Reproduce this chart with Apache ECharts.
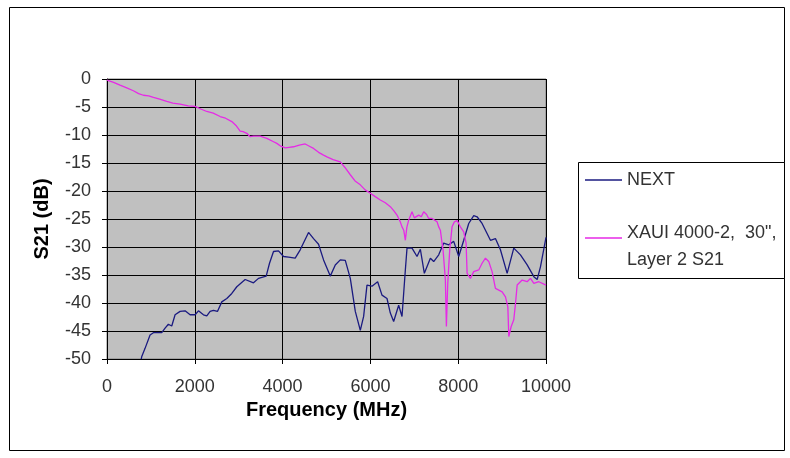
<!DOCTYPE html>
<html>
<head>
<meta charset="utf-8">
<script src="https://cdn.jsdelivr.net/npm/echarts@6/dist/echarts.min.js"></script>
<style>
html,body{margin:0;padding:0;background:#fff;}
#chart{width:790px;height:458px;}
</style>
</head>
<body>
<div id="chart"></div>
<script>
// Tick settings
var xTicks = [0, 2000, 4000, 6000, 8000, 10000];
var yTicks = [0, -5, -10, -15, -20, -25, -30, -35, -40, -45, -50];

// Series 1: NEXT
var nextFreq = [780, 790, 867, 981, 1057, 1247, 1323, 1398, 1475, 1551, 1665, 1779, 1893, 2007, 2083, 2197, 2273, 2349, 2425, 2516, 2615, 2729, 2843, 2957, 3147, 3337, 3451, 3626, 3702, 3793, 3907, 4021, 4135, 4287, 4401, 4591, 4705, 4819, 4933, 5086, 5200, 5314, 5428, 5542, 5656, 5770, 5846, 5922, 6036, 6165, 6264, 6378, 6454, 6530, 6644, 6720, 6796, 6834, 6948, 7062, 7138, 7229, 7366, 7442, 7556, 7670, 7784, 7898, 8012, 8126, 8240, 8354, 8430, 8544, 8734, 8848, 8962, 9115, 9266, 9418, 9571, 9723, 9799, 9875, 10000];
var nextDb = [-50, -49.6, -48.1, -45.7, -45.3, -45.3, -44.5, -43.8, -44.1, -42.1, -41.5, -41.4, -42.1, -42.1, -41.4, -42.1, -42.3, -41.5, -41.3, -41.5, -39.8, -39.2, -38.3, -37.1, -35.8, -36.4, -35.6, -35.2, -32.9, -30.8, -30.7, -31.7, -31.8, -32.0, -30.5, -27.4, -28.5, -29.5, -32.3, -35.2, -33.2, -32.3, -32.4, -35.6, -41.5, -44.9, -42.4, -36.8, -37.0, -36.2, -38.6, -39.2, -41.8, -43.3, -40.4, -42.4, -34.1, -30.2, -30.2, -31.7, -30.4, -34.7, -32.0, -32.6, -31.4, -29.3, -29.6, -29.0, -31.7, -28.8, -25.8, -24.4, -24.6, -25.8, -28.8, -28.5, -30.5, -34.7, -30.2, -31.4, -33.2, -35.3, -35.8, -33.5, -28.3];

// Series 2: XAUI 4000-2, 30", Layer 2 S21
var s21Freq = [0, 150, 296, 450, 600, 720, 829, 950, 1057, 1200, 1361, 1500, 1665, 1850, 2007, 2150, 2273, 2420, 2577, 2700, 2843, 2950, 3033, 3100, 3185, 3260, 3337, 3489, 3641, 3793, 3869, 3960, 4059, 4150, 4249, 4380, 4515, 4610, 4705, 4820, 4933, 5010, 5150, 5314, 5420, 5542, 5650, 5770, 5880, 5998, 6110, 6226, 6340, 6454, 6540, 6606, 6680, 6720, 6760, 6796, 6830, 6872, 6948, 7000, 7024, 7100, 7160, 7214, 7280, 7328, 7404, 7442, 7518, 7556, 7594, 7632, 7655, 7708, 7731, 7762, 7807, 7860, 7913, 7975, 8050, 8126, 8180, 8203, 8278, 8354, 8468, 8544, 8620, 8696, 8772, 8848, 9001, 9077, 9131, 9153, 9207, 9266, 9305, 9343, 9457, 9571, 9646, 9723, 9837, 10000];
var s21Db = [-0.2, -0.6, -1.1, -1.6, -2.1, -2.6, -2.9, -3.0, -3.3, -3.6, -4.0, -4.3, -4.5, -4.8, -4.9, -5.4, -5.8, -6.1, -6.7, -7.0, -7.6, -8.4, -9.3, -9.4, -9.7, -10.3, -10.2, -10.2, -10.6, -11.2, -11.5, -12.0, -12.3, -12.2, -12.1, -11.8, -11.6, -12.0, -12.4, -13.1, -13.6, -13.9, -14.4, -14.8, -15.8, -17.1, -18.2, -18.9, -19.8, -20.4, -21.0, -21.6, -22.1, -22.8, -23.6, -24.3, -25.5, -26.4, -27.0, -28.8, -26.5, -25.2, -23.7, -24.8, -24.6, -24.3, -24.6, -23.7, -24.2, -24.9, -24.9, -25.1, -25.5, -26.4, -27.0, -29.3, -30.5, -35.9, -44.2, -36.5, -30.5, -26.4, -25.5, -25.3, -26.4, -27.3, -29.3, -34.7, -35.6, -34.4, -34.1, -32.9, -32.0, -32.6, -34.4, -37.4, -38.0, -38.9, -40.7, -46.0, -44.2, -43.0, -40.1, -36.8, -35.9, -36.2, -35.6, -36.5, -36.2, -36.8];

var seriesNames = ['NEXT', 'XAUI 4000-2, 30",\nLayer 2 S21'];
var seriesColors = ['#1a1a80', '#e62ae6'];

function zip(a, b) { return a.map(function (v, i) { return [v, b[i]]; }); }

var FONT = '"Liberation Sans", Arial, sans-serif';
var chart = echarts.init(document.getElementById('chart'), null, {renderer: 'canvas'});

chart.setOption({
  animation: false,
  backgroundColor: '#ffffff',
  grid: {
    left: 107, top: 79, width: 439, height: 280,
    show: true, backgroundColor: '#c0c0c0', borderColor: '#808080', borderWidth: 1,
    containLabel: false
  },
  xAxis: {
    type: 'value', min: xTicks[0], max: xTicks[xTicks.length - 1], interval: 2000,
    name: 'Frequency (MHz)', nameLocation: 'middle', nameGap: 40,
    nameTextStyle: {fontFamily: FONT, fontSize: 20, fontWeight: 'bold', color: '#000'},
    axisLine: {show: true, onZero: false, lineStyle: {color: '#000', width: 1}},
    axisTick: {show: true, inside: false, length: 5, lineStyle: {color: '#000'}},
    axisLabel: {fontFamily: FONT, fontSize: 18, color: '#333', margin: 19,
      formatter: function (v) { return String(v); }},
    splitLine: {show: true, lineStyle: {color: '#000', width: 1}}
  },
  yAxis: {
    type: 'value', min: yTicks[yTicks.length - 1], max: yTicks[0], interval: 5,
    name: 'S21 (dB)', nameLocation: 'middle', nameGap: 55, nameRotate: 90,
    nameTextStyle: {fontFamily: FONT, fontSize: 20, fontWeight: 'bold', color: '#000'},
    axisLine: {show: true, onZero: false, lineStyle: {color: '#000', width: 1}},
    axisTick: {show: true, inside: false, length: 5, lineStyle: {color: '#000'}},
    axisLabel: {fontFamily: FONT, fontSize: 18, color: '#333', margin: 16,
      formatter: function (v) { return String(v); }},
    splitLine: {show: true, lineStyle: {color: '#000', width: 1}}
  },
  series: [
    {
      name: seriesNames[0], type: 'line', data: zip(nextFreq, nextDb),
      showSymbol: false, symbol: 'none', smooth: false,
      lineStyle: {color: seriesColors[0], width: 1.3}, itemStyle: {color: seriesColors[0]},
      z: 3
    },
    {
      name: seriesNames[1], type: 'line', data: zip(s21Freq, s21Db),
      showSymbol: false, symbol: 'none', smooth: false,
      lineStyle: {color: seriesColors[1], width: 1.3}, itemStyle: {color: seriesColors[1]},
      z: 4
    }
  ],
  graphic: [
    {type: 'rect', shape: {x: 9.5, y: 7.5, width: 775, height: 443}, style: {fill: 'none', stroke: '#000', lineWidth: 1}, silent: true, z: 0},
    {type: 'rect', shape: {x: 578.5, y: 162.5, width: 206, height: 116}, style: {fill: '#fff', stroke: '#000', lineWidth: 1}, silent: true, z: 10},
    {type: 'line', shape: {x1: 585, y1: 180, x2: 622, y2: 180}, style: {stroke: seriesColors[0], lineWidth: 1.5}, silent: true, z: 11},
    {type: 'text', x: 627, y: 180, style: {text: seriesNames[0], fontFamily: FONT, fontSize: 18, fill: '#333', verticalAlign: 'middle'}, silent: true, z: 11},
    {type: 'line', shape: {x1: 585, y1: 238, x2: 622, y2: 238}, style: {stroke: seriesColors[1], lineWidth: 1.5}, silent: true, z: 11},
    {type: 'text', x: 627, y: 233, style: {text: 'XAUI 4000-2,  30",', fontFamily: FONT, fontSize: 18, fill: '#333', verticalAlign: 'middle'}, silent: true, z: 11},
    {type: 'text', x: 627, y: 260, style: {text: 'Layer 2 S21', fontFamily: FONT, fontSize: 18, fill: '#333', verticalAlign: 'middle'}, silent: true, z: 11}
  ]
});
</script>
</body>
</html>
